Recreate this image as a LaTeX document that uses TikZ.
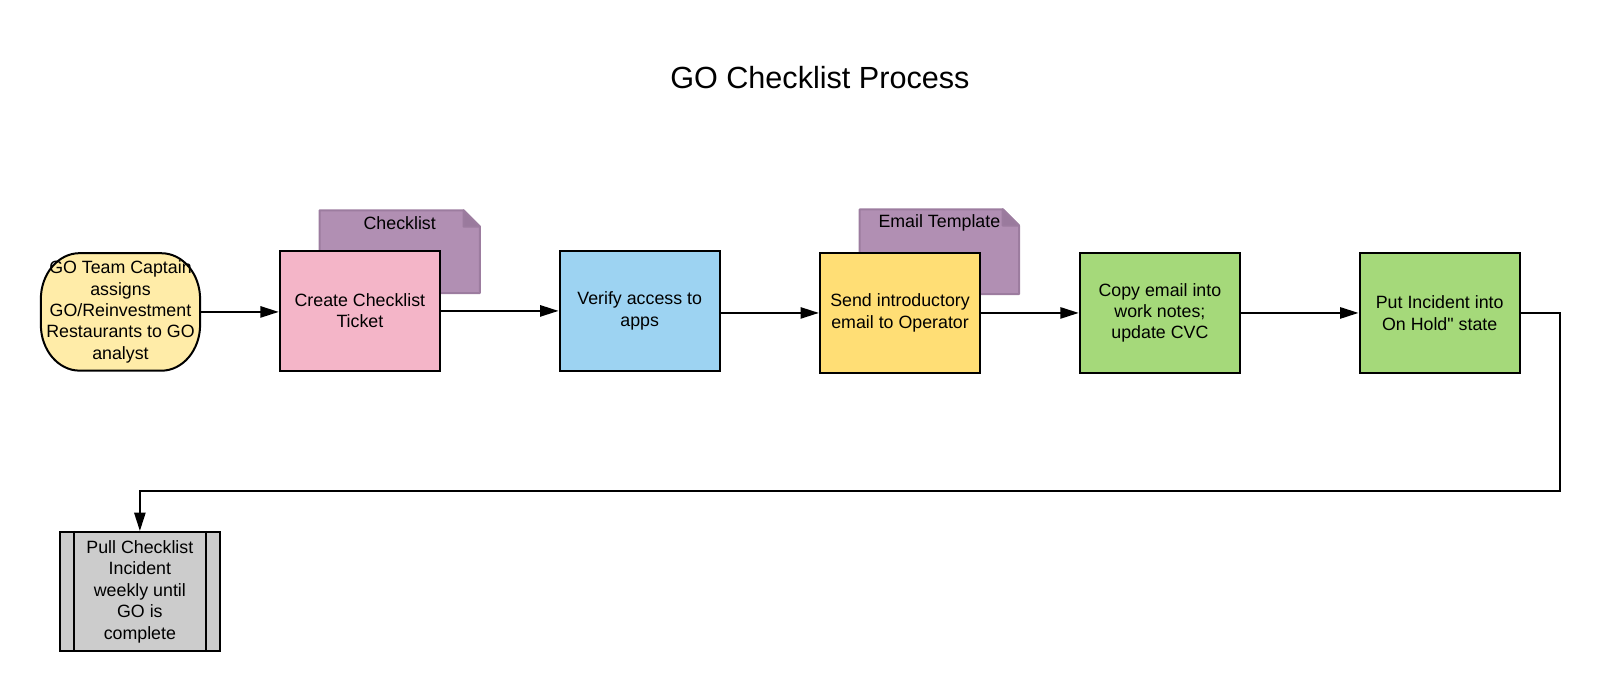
\documentclass[tikz,border=0pt]{standalone}
\usepackage{fontspec}
\setmainfont{Liberation Sans}[Ligatures=TeXOff]
\usetikzlibrary{arrows.meta}
\definecolor{startfill}{HTML}{FFECA8}
\definecolor{pinkfill}{HTML}{F4B5C8}
\definecolor{bluefill}{HTML}{9DD3F2}
\definecolor{yellowfill}{HTML}{FFDE75}
\definecolor{greenfill}{HTML}{A5D97A}
\definecolor{grayfill}{HTML}{CCCCCC}
\definecolor{notefill}{HTML}{B18FB3}
\definecolor{notedraw}{HTML}{9C7C9F}
\definecolor{notefold}{HTML}{9A7A9D}
\begin{document}
\begin{tikzpicture}[x=0.5105pt,y=-0.5105pt,
  txt/.style={font=\fontsize{8.9}{10.7}\selectfont, align=center},
  proc/.style={txt, draw=black, line width=1pt, minimum width=80.15pt, minimum height=59.7pt, inner sep=0pt},
  startbox/.style={txt, minimum width=79.6pt, minimum height=58.7pt, inner sep=0pt},
  startshape/.style={fill=startfill, draw=black, line width=1pt},
  notebody/.style={fill=notefill, draw=notedraw, line width=1pt, line join=round},
  foldpart/.style={fill=notefold, draw=notedraw, line width=1pt, line join=round},
  conn/.style={draw=black, line width=1pt, -{Triangle[length=9.2pt,width=5.6pt]}},
  divider/.style={draw=black, line width=1pt}]
\useasboundingbox (0,0) rectangle (1568,677.7);

\node[font=\fontsize{15.3}{18}\selectfont] (title) at (803,76) {GO Checklist Process};

% notes (behind boxes)
\path[notebody] (313,206) -- (454,206) -- (470,222) -- (470,287) -- (313,287) -- cycle;
\path[foldpart] (454,206) -- (470,222) -- (454,222) -- cycle;
\node[txt, inner sep=0pt] (checklist) at (391.5,219) {Checklist};

\path[notebody] (842,205) -- (982,205) -- (998,221) -- (998,288) -- (842,288) -- cycle;
\path[foldpart] (982,205) -- (998,221) -- (982,221) -- cycle;
\node[txt, inner sep=0pt] (emailtpl) at (920,218) {Email Template};

% start terminal (elliptical corners)
\path[startshape] (78,248) -- (158,248)
  arc[start angle=90, end angle=0, x radius=19.4pt, y radius=23pt] -- (196,318)
  arc[start angle=0, end angle=-90, x radius=19.4pt, y radius=23pt] -- (78,363)
  arc[start angle=-90, end angle=-180, x radius=19.4pt, y radius=23pt] -- (40,293)
  arc[start angle=180, end angle=90, x radius=19.4pt, y radius=23pt] -- cycle;
\node[startbox] (start) at (118,305.5) {GO Team Captain\\assigns\\GO/Reinvestment\\Restaurants to GO\\analyst};

% process boxes
\node[proc, fill=pinkfill] (create) at (352.5,304.5) {Create Checklist\\Ticket};
\node[proc, fill=bluefill] (verify) at (626.5,304.5) {Verify access to\\apps};
\node[proc, fill=yellowfill] (send) at (881.5,306.5) {Send introductory\\email to Operator};
\node[proc, fill=greenfill] (copy) at (1136,306.5) {Copy email into\\work notes;\\update CVC};
\node[proc, fill=greenfill] (put) at (1410,306.5) {Put Incident into\\On Hold" state};
\node[proc, fill=grayfill] (pull) at (137,579.5) {Pull Checklist\\Incident\\weekly until\\GO is\\complete};
\draw[divider] ([xshift=7.65pt]pull.north west) -- ([xshift=7.65pt]pull.south west);
\draw[divider] ([xshift=-7.65pt]pull.north east) -- ([xshift=-7.65pt]pull.south east);

% connectors
\draw[conn] (start.east) -- (start.east -| create.west);
\draw[conn] (create.east) -- (verify.west);
\draw[conn] (send.west -| verify.east) -- (send.west);
\draw[conn] (send.east) -- (copy.west);
\draw[conn] (copy.east) -- (put.west);
\coordinate (turn) at (1528,481);
\draw[conn] (put.east) -- (put.east -| turn) -- (turn) -| (pull.north);
\end{tikzpicture}
\end{document}
